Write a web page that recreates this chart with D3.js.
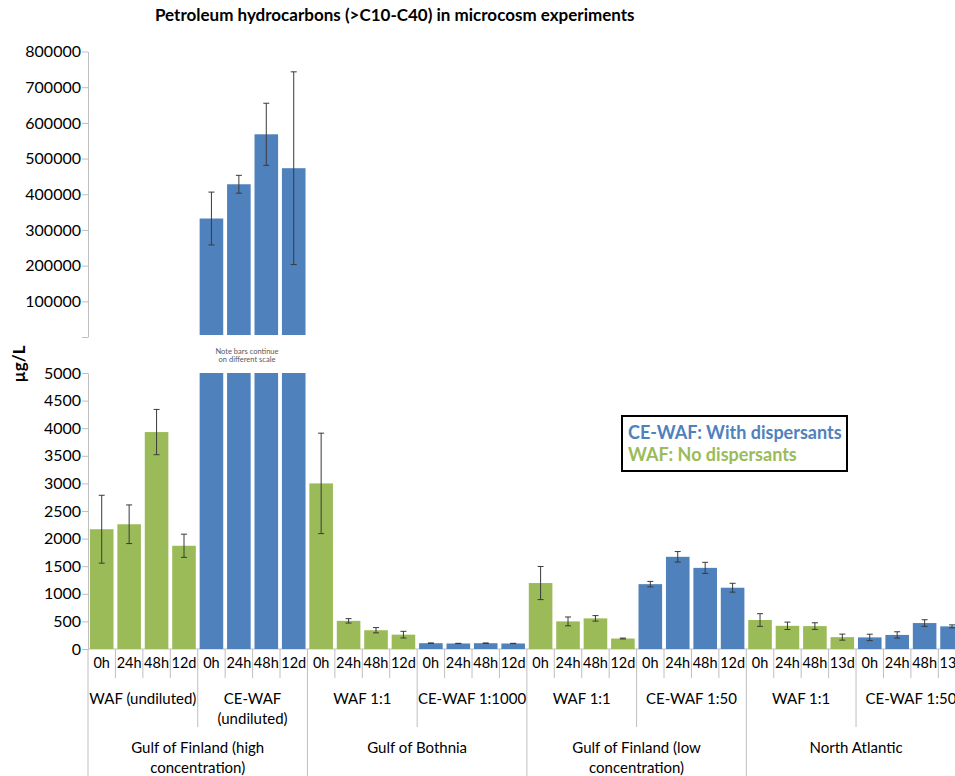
<!DOCTYPE html>
<html><head><meta charset="utf-8">
<script src="https://cdn.jsdelivr.net/npm/d3@7"></script>
<style>body{margin:0;background:#fff}svg{display:block}</style>
</head><body>
<script>
// ---- data ----
const timeLabels = ["0h","24h","48h","12d","0h","24h","48h","12d","0h","24h","48h","12d","0h","24h","48h","12d",
                    "0h","24h","48h","12d","0h","24h","48h","12d","0h","24h","48h","13d","0h","24h","48h","13d"];
const groupLabels = ["WAF (undiluted)","CE-WAF\n(undiluted)","WAF 1:1","CE-WAF 1:1000","WAF 1:1","CE-WAF 1:50","WAF 1:1","CE-WAF 1:50"];
const groupTypes = ["WAF","CE-WAF","WAF","CE-WAF","WAF","CE-WAF","WAF","CE-WAF"];
const regionLabels = ["Gulf of Finland (high\nconcentration)","Gulf of Bothnia","Gulf of Finland (low\nconcentration)","North Atlantic"];
const values = [2170,2260,3930,1870, 332000,428000,568000,473000,
                3000,510,340,260, 105,100,105,100,
                1195,500,555,190, 1175,1670,1470,1110,
                525,420,415,215, 210,255,470,410];
const errors = [615,350,410,210, 74000,25000,87000,270000,
                910,40,48,60, 5,3,4,3,
                300,80,50,8, 50,95,100,80,
                115,67,60,55, 58,57,60,27];
const lowTicks = [0,500,1000,1500,2000,2500,3000,3500,4000,4500,5000];
const highTicks = [0,100000,200000,300000,400000,500000,600000,700000,800000];
const legendItems = [{label:"CE-WAF: With dispersants", type:"CE-WAF"},{label:"WAF: No dispersants", type:"WAF"}];
const colors = {"CE-WAF":"#4F81BD","WAF":"#9BBB59"};

const W=955,H=776;
const FONT="Lato, 'Open Sans', sans-serif";
const svg=d3.select("body").append("svg").attr("width",W).attr("height",H).style("font-family",FONT);

const n=values.length;
const x=d3.scaleBand().domain(d3.range(n)).range([88,88+n*27.43]).paddingInner(0.14).paddingOuter(0.07);
const step=x.step();
const x0=88;
const yLow=d3.scaleLinear().domain([0,5000]).range([649,373]);
const yHigh=d3.scaleLinear().domain([0,800000]).range([337,51.5]);
const typeOf=i=>groupTypes[Math.floor(i/4)];
const axisGray="#BFBFBF";

// title
svg.append("text").attr("x",155).attr("y",21).attr("font-weight","bold").attr("font-size",17)
  .text("Petroleum hydrocarbons (>C10-C40) in microcosm experiments");

// y label
svg.append("text").attr("transform","translate(25,364) rotate(-90)").attr("text-anchor","middle")
  .attr("font-weight","bold").attr("font-size",17).text("µg/L");

// axes
function styleAxis(g){
  g.selectAll("path.domain").attr("stroke",axisGray);
  g.selectAll(".tick line").attr("stroke",axisGray);
  g.selectAll(".tick text").attr("font-size",16).attr("font-family",FONT).attr("fill","#000");
}
const gLow=svg.append("g").attr("transform","translate(88,0)")
  .call(d3.axisLeft(yLow).tickValues(lowTicks).tickSize(6).tickSizeOuter(0).tickPadding(1).tickFormat(d3.format("d")));
styleAxis(gLow);
const gHigh=svg.append("g").attr("transform","translate(88,0)")
  .call(d3.axisLeft(yHigh).tickValues(highTicks).tickSize(6).tickSizeOuter(0).tickPadding(1).tickFormat(d=>d===0?"":d3.format("d")(d)));
styleAxis(gHigh);

// x baseline
svg.append("line").attr("x1",x0).attr("x2",x0+n*step).attr("y1",yLow(0)).attr("y2",yLow(0)).attr("stroke",axisGray);

// lower bars
svg.append("g").selectAll("rect").data(values).join("rect")
  .attr("x",(d,i)=>x(i)).attr("width",x.bandwidth())
  .attr("y",d=>yLow(Math.min(d,5000))).attr("height",d=>yLow(0)-yLow(Math.min(d,5000)))
  .attr("fill",(d,i)=>colors[typeOf(i)]);

// upper bars
const big=values.map((v,i)=>({v,i,e:errors[i]})).filter(d=>d.v>5000);
svg.append("g").selectAll("rect").data(big).join("rect")
  .attr("x",d=>x(d.i)).attr("width",x.bandwidth())
  .attr("y",d=>yHigh(d.v)).attr("height",d=>yHigh(0)-2-yHigh(d.v))
  .attr("fill",d=>colors[typeOf(d.i)]);

// error bars
function errBars(data,scale){
  const g=svg.append("g").attr("stroke","#3a3a3a").attr("stroke-width",1);
  data.forEach(d=>{
    const cx=x(d.i)+x.bandwidth()/2;
    const y1=scale(d.v+d.e), y2=scale(d.v-d.e);
    g.append("line").attr("x1",cx).attr("x2",cx).attr("y1",y1).attr("y2",y2);
    g.append("line").attr("x1",cx-3).attr("x2",cx+3).attr("y1",y1).attr("y2",y1);
    g.append("line").attr("x1",cx-3).attr("x2",cx+3).attr("y1",y2).attr("y2",y2);
  });
}
errBars(values.map((v,i)=>({v,i,e:errors[i]})).filter(d=>d.v<=5000),yLow);
errBars(big,yHigh);

// note
const note=svg.append("text").attr("text-anchor","middle").attr("font-size",7.5).attr("fill","#595959");
note.append("tspan").attr("x",247).attr("y",354).text("Note bars continue");
note.append("tspan").attr("x",247).attr("y",362).text("on different scale");

// category separators
const sep=svg.append("g").attr("stroke",axisGray);
d3.range(n+1).forEach(i=>{
  const xx=x0+i*step;
  const y2 = i%8===0 ? 776 : (i%4===0 ? 727 : 678);
  sep.append("line").attr("x1",xx).attr("x2",xx).attr("y1",yLow(0)).attr("y2",y2);
});

// time labels
svg.append("g").selectAll("text").data(timeLabels).join("text")
  .attr("x",(d,i)=>x0+(i+0.5)*step).attr("y",668).attr("text-anchor","middle").attr("font-size",14.5).text(d=>d);

// group labels
groupLabels.forEach((lab,gi)=>{
  const cx=x0+(gi*4+2)*step;
  const t=svg.append("text").attr("text-anchor","middle").attr("font-size",15);
  lab.split("\n").forEach((ln,k)=>t.append("tspan").attr("x",cx).attr("y",704+k*20).text(ln));
});
// region labels
regionLabels.forEach((lab,ri)=>{
  const cx=x0+(ri*8+4)*step;
  const t=svg.append("text").attr("text-anchor","middle").attr("font-size",15);
  lab.split("\n").forEach((ln,k)=>t.append("tspan").attr("x",cx).attr("y",753+k*20).text(ln));
});

// legend
svg.append("rect").attr("x",622).attr("y",416).attr("width",225).attr("height",55)
  .attr("fill","#fff").attr("stroke","#000").attr("stroke-width",2);
svg.append("g").selectAll("text").data(legendItems).join("text")
  .attr("x",628).attr("y",(d,i)=>439+i*22).attr("font-weight","bold").attr("font-size",18)
  .attr("fill",d=>colors[d.type]).text(d=>d.label);
</script>
</body></html>
